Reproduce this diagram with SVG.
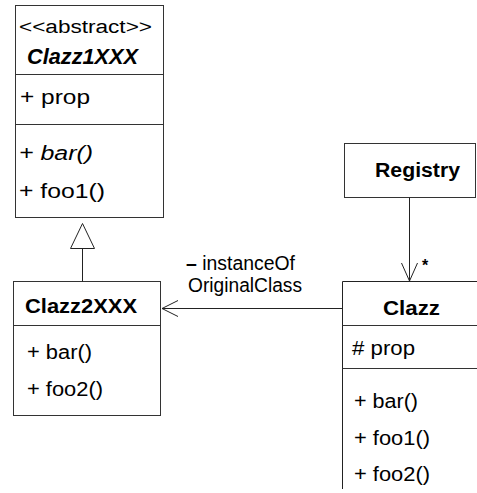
<svg xmlns="http://www.w3.org/2000/svg" width="477" height="493" viewBox="0 0 477 493">
  <style>
    .box { fill: #ffffff; stroke: #333333; stroke-width: 1; }
    .div { stroke: #333333; stroke-width: 1; }
    .edge { fill: none; stroke: #222222; stroke-width: 1; }
    text { font-family: "Liberation Sans", Arial, Helvetica, sans-serif; fill: #000000; }
    .name { font-weight: bold; }
    .abs { font-style: italic; }
  </style>
  <rect width="477" height="493" fill="#ffffff"/>

  <!-- abstract base class -->
  <g id="Clazz1XXX">
    <rect class="box" x="15.5" y="5.5" width="148" height="212"/>
    <text x="19" y="33" font-size="18" textLength="133" lengthAdjust="spacingAndGlyphs">&lt;&lt;abstract&gt;&gt;</text>
    <text class="name abs" x="27" y="64" font-size="22" textLength="111" lengthAdjust="spacingAndGlyphs">Clazz1XXX</text>
    <line class="div" x1="15.5" y1="74.5" x2="163.5" y2="74.5"/>
    <text x="20" y="104" font-size="20" textLength="70" lengthAdjust="spacingAndGlyphs">+ prop</text>
    <line class="div" x1="15.5" y1="124.5" x2="163.5" y2="124.5"/>
    <text class="abs" x="19" y="160" font-size="20" textLength="74" lengthAdjust="spacingAndGlyphs">+ bar()</text>
    <text x="19" y="198" font-size="20" textLength="86" lengthAdjust="spacingAndGlyphs">+ foo1()</text>
  </g>

  <!-- concrete subclass -->
  <g id="Clazz2XXX">
    <rect class="box" x="13.5" y="281.5" width="147" height="134"/>
    <text class="name" x="25" y="313" font-size="21" textLength="112" lengthAdjust="spacingAndGlyphs">Clazz2XXX</text>
    <line class="div" x1="13.5" y1="325.5" x2="160.5" y2="325.5"/>
    <text x="27" y="359" font-size="20" textLength="65" lengthAdjust="spacingAndGlyphs">+ bar()</text>
    <text x="27" y="396" font-size="20" textLength="76" lengthAdjust="spacingAndGlyphs">+ foo2()</text>
  </g>

  <!-- registry -->
  <g id="Registry">
    <rect class="box" x="344.5" y="143.5" width="131" height="54"/>
    <text class="name" x="375" y="177" font-size="20" textLength="85" lengthAdjust="spacingAndGlyphs">Registry</text>
  </g>

  <!-- runtime class, runs off the right and bottom edges -->
  <g id="Clazz">
    <path class="edge" d="M 342.5 489 L 342.5 281.5 L 477 281.5"/>
    <text class="name" x="383" y="315" font-size="20" textLength="57" lengthAdjust="spacingAndGlyphs">Clazz</text>
    <line class="div" x1="342.5" y1="325.5" x2="477" y2="325.5"/>
    <text x="352" y="355" font-size="20" textLength="63" lengthAdjust="spacingAndGlyphs"># prop</text>
    <line class="div" x1="342.5" y1="368.5" x2="477" y2="368.5"/>
    <text x="354" y="408" font-size="20" textLength="64" lengthAdjust="spacingAndGlyphs">+ bar()</text>
    <text x="354" y="445" font-size="20" textLength="76" lengthAdjust="spacingAndGlyphs">+ foo1()</text>
    <text x="354" y="481" font-size="20" textLength="76" lengthAdjust="spacingAndGlyphs">+ foo2()</text>
  </g>

  <g id="connectors">
    <!-- generalization -->
    <line class="edge" x1="82.5" y1="248" x2="82.5" y2="281.5"/>
    <polygon class="edge" points="82.5,223.5 70.5,248.5 94.5,248.5" style="fill:#ffffff"/>

    <!-- association instanceOfOriginalClass -->
    <line class="edge" x1="342.5" y1="308.5" x2="162" y2="308.5"/>
    <polyline class="edge" points="178,300.5 162,308.5 178,316.5"/>
    <text x="186" y="270" font-size="19.5" textLength="109" lengthAdjust="spacingAndGlyphs"><tspan font-weight="bold">–</tspan> instanceOf</text>
    <text x="188" y="292" font-size="19.5" textLength="114" lengthAdjust="spacingAndGlyphs">OriginalClass</text>

    <!-- registry association -->
    <line class="edge" x1="409.5" y1="197.5" x2="409.5" y2="281"/>
    <polyline class="edge" points="401.5,263 409.5,281 417.5,263"/>
    <text class="name" x="422" y="271" font-size="16">*</text>
  </g>
</svg>
